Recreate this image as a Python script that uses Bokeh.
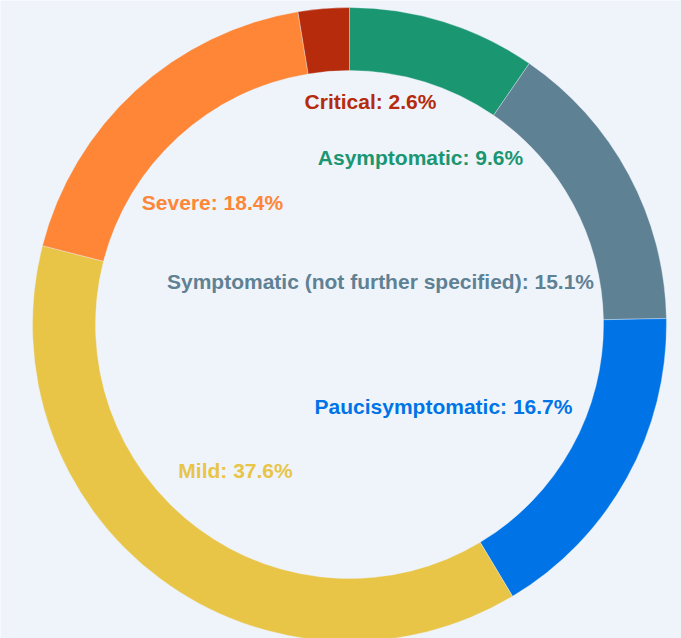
import math
from bokeh.plotting import figure
from bokeh.models import Range1d, ColumnDataSource
from bokeh.core.properties import value
from bokeh.embed import file_html
from bokeh.resources import INLINE

# ---- data ----
categories = ["Asymptomatic", "Symptomatic (not further specified)", "Paucisymptomatic",
              "Mild", "Severe", "Critical"]
shares = [9.6, 15.1, 16.7, 37.6, 18.4, 2.6]
colors = ["#1a9671", "#5f8194", "#0074e6", "#e8c547", "#fe8636", "#b52b0c"]

# ---- layout ----
W, H = 681, 638
BG = "#eff4fb"
cx, cy = 349, H - 324
r_in, r_out = 254, 317
# label centres in screen pixels (from top-left of the figure)
label_px = [(420, 157), (380, 281), (443, 406), (235, 470), (212, 202), (370, 101)]

total = sum(shares)
starts, ends = [], []
cum = 0.0
for s in shares:
    starts.append(math.pi / 2 - 2 * math.pi * cum / total)
    cum += s
    ends.append(math.pi / 2 - 2 * math.pi * cum / total)

src = ColumnDataSource(dict(start=starts, end=ends, color=colors))

labels = [f"{c}: {s}%" for c, s in zip(categories, shares)]
lab_src = ColumnDataSource(dict(
    x=[p[0] for p in label_px],
    y=[H - p[1] for p in label_px],
    text=labels,
    color=colors,
))

p = figure(width=W, height=H, x_range=Range1d(0, W), y_range=Range1d(0, H),
           output_backend="svg", toolbar_location=None,
           x_axis_location=None, y_axis_location=None,
           background_fill_color=BG, border_fill_color=BG, min_border=0)
p.outline_line_color = None
p.grid.visible = False

p.annular_wedge(x=cx, y=cy, inner_radius=r_in, outer_radius=r_out,
                start_angle="start", end_angle="end", direction="clock",
                fill_color="color", line_color=BG, line_width=0.6, line_alpha=0.6,
                source=src)

p.text(x="x", y="y", text="text", text_color="color", source=lab_src,
       text_font=value("Liberation Sans"), text_font_style="bold",
       text_font_size="21px", text_align="center", text_baseline="middle")

html = file_html(p, INLINE)
html = html.replace("<body>", f'<body style="background:{BG};margin:0;overflow:hidden;">', 1)
open("out.html", "w").write(html)
